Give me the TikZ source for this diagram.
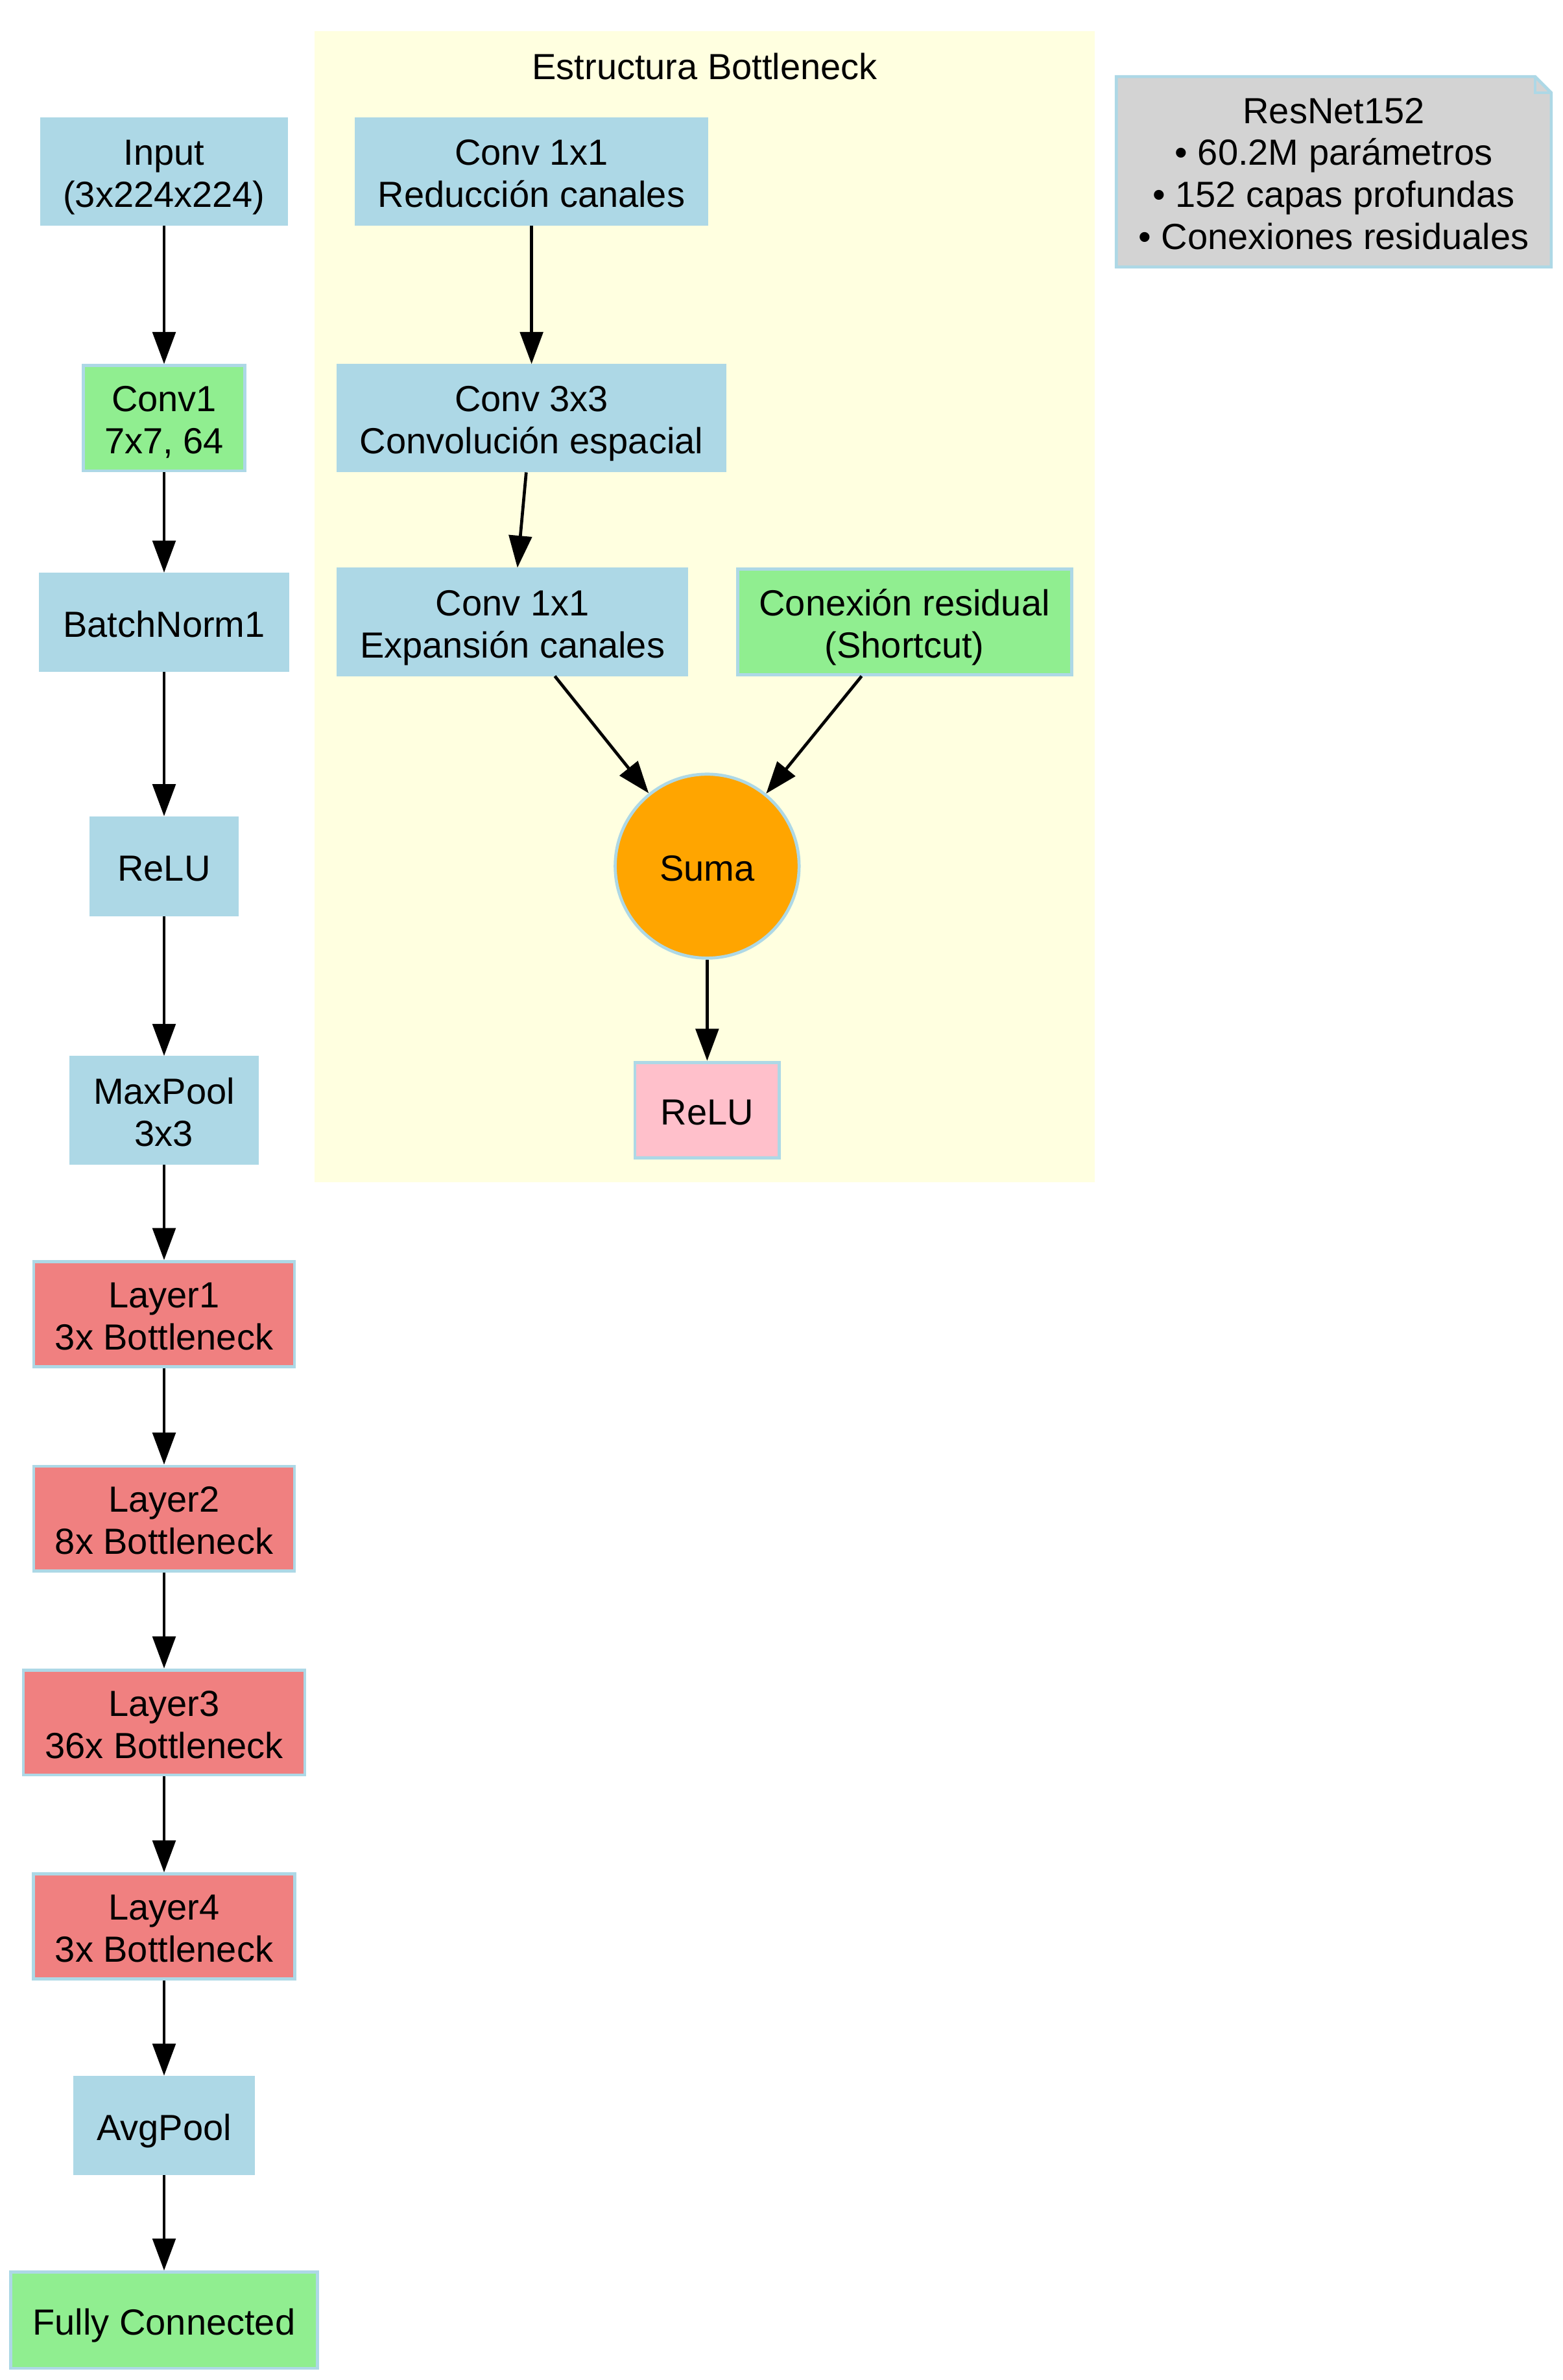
\documentclass[tikz,border=0pt]{standalone}
\usepackage{fontspec}
\setmainfont{Liberation Sans}
\usetikzlibrary{arrows.meta,calc,backgrounds}
\definecolor{lb}{HTML}{ADD8E6}
\definecolor{lg}{HTML}{90EE90}
\definecolor{lc}{HTML}{F08080}
\definecolor{pk}{HTML}{FFC0CB}
\definecolor{og}{HTML}{FFA500}
\definecolor{ly}{HTML}{FFFFE0}
\definecolor{gr}{HTML}{D3D3D3}
\newcommand\gvlines[1]{\vtop{\baselineskip=27.6bp\lineskiplimit=-100bp\lineskip=0pt\halign{\hfil##\hfil\cr#1\crcr}}}
\begin{document}
\begin{tikzpicture}[x=1bp,y=-1bp,
  font=\fontsize{23.8bp}{27.6bp}\selectfont,
  box/.style={rectangle, draw=lb, line width=2bp, inner sep=0pt, outer sep=1bp},
  one/.style={text height=20bp, text depth=0.8bp},
  two/.style={text height=20bp, text depth=28.4bp},
  four/.style={text height=20bp, text depth=83.6bp},
  bluebox/.style={box, fill=lb},
  greenbox/.style={box, fill=lg},
  coralbox/.style={box, fill=lc},
  sz/.style 2 args={minimum width=#1bp, minimum height=#2bp},
  arr/.style={-{Triangle[length=21bp,width=15bp]}, line width=2bp, black}]
\useasboundingbox (0,0) rectangle (1024,1559.4);
% cluster
\node[fill=ly, inner sep=0pt, outer sep=0pt, minimum width=511.4bp, minimum height=754.1bp] (clu) at (461.7,397.35) {};
\node[anchor=base, inner sep=0pt] (ttl) at (461.7,52.2) {Estructura Bottleneck};
% main chain
\node[bluebox, two, sz={160.6}{68.9}] (nin) at (107.5,112.35) {\gvlines{Input\cr(3x224x224)}};
\node[greenbox, two, sz={106}{68.9}] (nc1) at (107.5,274) {\gvlines{Conv1\cr7x7, 64}};
\node[bluebox, one, sz={162.1}{63}] (nbn) at (107.5,407.7) {BatchNorm1};
\node[bluebox, one, sz={95.5}{63.4}] (nrelu) at (107.5,567.5) {ReLU};
\node[bluebox, two, sz={121.8}{69.3}] (nmp) at (107.5,727.5) {\gvlines{MaxPool\cr3x3}};
\node[coralbox, two, sz={170.7}{68.7}] (nl1) at (107.5,861) {\gvlines{Layer1\cr3x Bottleneck}};
\node[coralbox, two, sz={170.7}{68.7}] (nl2) at (107.5,995) {\gvlines{Layer2\cr8x Bottleneck}};
\node[coralbox, two, sz={184.5}{68.8}] (nl3) at (107.5,1128.6) {\gvlines{Layer3\cr36x Bottleneck}};
\node[coralbox, two, sz={171}{68.7}] (nl4) at (107.5,1262.2) {\gvlines{Layer4\cr3x Bottleneck}};
\node[bluebox, one, sz={117}{63.2}] (nap) at (107.5,1392.6) {AvgPool};
\node[greenbox, one, sz={200.8}{63}] (nfc) at (107.5,1520.2) {Fully Connected};
% bottleneck
\node[bluebox, two, sz={229.5}{69}] (nb1) at (348.25,112.35) {\gvlines{Conv 1x1\cr Reducción canales}};
\node[bluebox, two, sz={253.5}{69}] (nb2) at (348.25,274) {\gvlines{Conv 3x3\cr Convolución espacial}};
\node[bluebox, two, sz={228.1}{69}] (nb3) at (335.75,407.5) {\gvlines{Conv 1x1\cr Expansión canales}};
\node[greenbox, two, sz={218.8}{69}] (nsc) at (592.6,407.5) {\gvlines{Conexión residual\cr(Shortcut)}};
\node[circle, draw=lb, fill=og, line width=2bp, inner sep=0pt, outer sep=1bp, one, minimum size=120.5bp] (nsum) at (463.3,567.5) {Suma};
\node[box, fill=pk, one, sz={94.7}{62.5}] (nrelu2) at (463.3,727.3) {ReLU};
% note
\node[inner sep=0pt, outer sep=0pt, four, minimum width=284.9bp, minimum height=124.7bp] (nnote) at (873.85,112.55) {\gvlines{ResNet152\cr• 60.2M parámetros\cr• 152 capas profundas\cr• Conexiones residuales}};
\begin{scope}[on background layer]
\fill[white] (0,0) rectangle (1024,1559.4);
\draw[lb, line width=2bp, fill=gr, line join=miter] (nnote.south west) -- (nnote.north west) -- ($(nnote.north east)+(-10.6,0)$) -- ($(nnote.north east)+(0,10.6)$) -- (nnote.south east) -- cycle;
\draw[lb, line width=2bp] ($(nnote.north east)+(-10.6,0)$) -- ($(nnote.north east)+(-10.6,10.6)$) -- ($(nnote.north east)+(0,10.6)$);
\end{scope}
% edges
\draw[arr] (nin) -- (nc1);
\draw[arr] (nc1) -- (nbn);
\draw[arr] (nbn) -- (nrelu);
\draw[arr] (nrelu) -- (nmp);
\draw[arr] (nmp) -- (nl1);
\draw[arr] (nl1) -- (nl2);
\draw[arr] (nl2) -- (nl3);
\draw[arr] (nl3) -- (nl4);
\draw[arr] (nl4) -- (nap);
\draw[arr] (nap) -- (nfc);
\draw[arr] (nb1) -- (nb2);
\draw[arr] ($(nb2.south)+(-3.5,0)$) -- ($(nb3.north)+(3.25,0)$);
\draw[arr] ($(nb3.south)+(27.75,0)$) -- (nsum);
\draw[arr] ($(nsc.south)+(-28.1,0)$) -- (nsum);
\draw[arr] (nsum) -- (nrelu2);
\end{tikzpicture}
\end{document}
